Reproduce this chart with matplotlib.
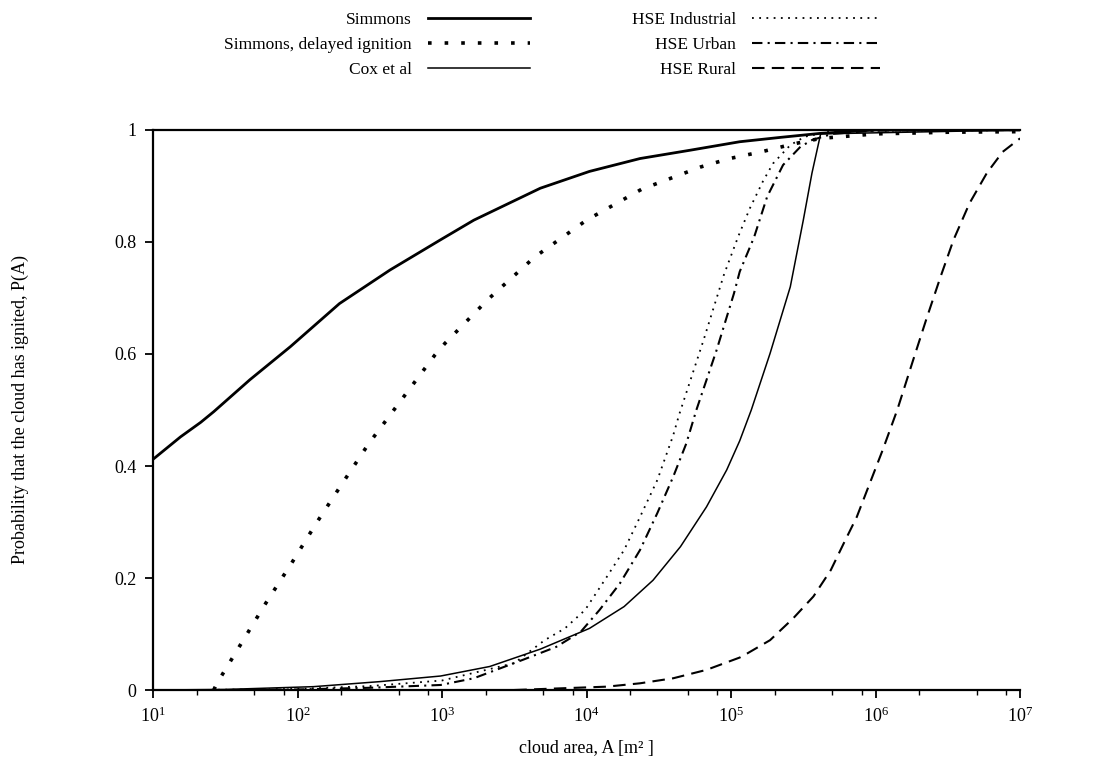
import numpy as np
import matplotlib
matplotlib.use('Agg')
import matplotlib.pyplot as plt

plt.rcParams['font.family'] = ['Liberation Serif', 'DejaVu Serif']
plt.rcParams['mathtext.fontset'] = 'custom'
plt.rcParams['mathtext.rm'] = 'Liberation Serif'
plt.rcParams['mathtext.it'] = 'Liberation Serif:italic'

# curves: exponent of cloud area (log10 A) and P(A)
simmons_logA = [1.0, 1.19, 1.33, 1.42, 1.67, 1.95, 2.29, 2.64, 2.99, 3.22, 3.68, 4.02,
                4.37, 4.72, 5.06, 5.35, 5.62, 6.0, 7.0]
simmons_p = [0.412, 0.452, 0.478, 0.497, 0.554, 0.613, 0.690, 0.750, 0.804, 0.839, 0.896, 0.926,
             0.949, 0.964, 0.979, 0.987, 0.994, 1.0, 1.0]

delayed_logA = [1.42, 1.44, 1.61, 1.78, 1.96, 2.13, 2.31, 2.49, 2.62, 2.95, 3.02, 3.32, 3.64,
                4.00, 4.38, 4.79, 4.99, 5.21, 5.43, 5.62, 6.0, 6.5, 7.0]
delayed_p = [0.0, 0.011, 0.083, 0.155, 0.227, 0.298, 0.369, 0.439, 0.484, 0.598, 0.619, 0.698, 0.773,
             0.839, 0.894, 0.934, 0.949, 0.961, 0.975, 0.985, 0.993, 0.996, 0.997]

cox_logA = [1.0, 1.5, 2.11, 2.57, 2.99, 3.33, 3.68, 4.02, 4.26, 4.46, 4.65, 4.83, 4.97, 5.06,
            5.14, 5.27, 5.41, 5.50, 5.56, 5.62, 7.0]
cox_p = [0.0, 0.001, 0.006, 0.015, 0.025, 0.042, 0.073, 0.110, 0.149, 0.196, 0.256, 0.327, 0.393, 0.445,
         0.500, 0.601, 0.720, 0.839, 0.923, 0.993, 1.0]

industrial_logA = [1.3, 2.0, 2.5, 3.0, 3.5, 3.71, 3.85, 3.99, 4.14, 4.26, 4.37, 4.49, 4.60, 4.64,
                   4.81, 4.95, 5.05, 5.13, 5.22, 5.29, 5.41, 5.51, 5.7, 7.0]
industrial_p = [0.0, 0.002, 0.007, 0.017, 0.048, 0.089, 0.110, 0.143, 0.202, 0.25, 0.309, 0.375, 0.455, 0.491,
                0.625, 0.741, 0.81, 0.86, 0.908, 0.94, 0.973, 0.988, 0.998, 1.0]

urban_logA = [1.5, 2.0, 2.5, 2.99, 3.22, 3.56, 3.79, 3.96, 4.09, 4.23, 4.37, 4.49, 4.60, 4.69,
              4.76, 4.90, 5.02, 5.06, 5.16, 5.25, 5.36, 5.48, 5.56, 5.7, 6.0, 7.0]
urban_p = [0.0, 0.001, 0.004, 0.009, 0.021, 0.054, 0.077, 0.104, 0.143, 0.19, 0.25, 0.316, 0.381, 0.44,
           0.5, 0.607, 0.708, 0.747, 0.809, 0.881, 0.9375, 0.970, 0.982, 0.993, 0.999, 1.0]

rural_logA = [3.5, 4.14, 4.37, 4.60, 4.83, 5.06, 5.11, 5.27, 5.43, 5.57, 5.69, 5.78, 5.87, 5.96,
              6.05, 6.15, 6.26, 6.35, 6.45, 6.54, 6.65, 6.77, 6.88, 7.0]
rural_p = [0.0, 0.006, 0.012, 0.021, 0.036, 0.058, 0.065, 0.089, 0.128, 0.167, 0.214, 0.262, 0.309, 0.369,
           0.429, 0.5, 0.589, 0.661, 0.738, 0.804, 0.869, 0.923, 0.961, 0.985]

xtick_values = [1e1, 1e2, 1e3, 1e4, 1e5, 1e6, 1e7]
xtick_labels = ['$10^1$', '$10^2$', '$10^3$', '$10^4$', '$10^5$', '$10^6$', '$10^7$']
ytick_values = [0, 0.2, 0.4, 0.6, 0.8, 1]
ytick_labels = ['0', '0.2', '0.4', '0.6', '0.8', '1']

fig = plt.figure(figsize=(10.94, 7.76), dpi=100)
ax = fig.add_axes([0.1399, 0.1108, 0.7925, 0.7217])

def area(logA):
    return 10 ** np.array(logA)

h1, = ax.plot(area(simmons_logA), simmons_p, color='black', lw=2.0, label='Simmons')
h2, = ax.plot(area(delayed_logA), delayed_p, color='black', lw=2.6, ls=(0, (1.0, 3.6)),
              label='Simmons, delayed ignition')
h3, = ax.plot(area(cox_logA), cox_p, color='black', lw=1.1, label='Cox et al')
h4, = ax.plot(area(industrial_logA), industrial_p, color='black', lw=1.3, ls=(0, (1, 3)),
              label='HSE Industrial')
h5, = ax.plot(area(urban_logA), urban_p, color='black', lw=1.5, ls=(0, (5, 2.5, 1, 2.5)),
              label='HSE Urban')
h6, = ax.plot(area(rural_logA), rural_p, color='black', lw=1.5, ls=(0, (6, 3.5)),
              label='HSE Rural')

ax.set_xscale('log')
ax.set_xlim(1e1, 1e7)
ax.set_ylim(0, 1)
ax.set_xticks(xtick_values)
ax.set_xticklabels(xtick_labels)
ax.xaxis.set_minor_locator(matplotlib.ticker.LogLocator(base=10, subs=[2, 5, 8]))
ax.xaxis.set_minor_formatter(matplotlib.ticker.NullFormatter())
ax.set_yticks(ytick_values)
ax.set_yticklabels(ytick_labels)

ax.tick_params(axis='both', which='major', direction='out', length=6, width=1.3,
               labelsize=13, pad=6, colors='black')
ax.tick_params(axis='x', which='minor', direction='out', length=3.5, width=1.0)
ax.tick_params(top=False, right=False, which='both')
for side in ['left', 'bottom', 'top']:
    ax.spines[side].set_linewidth(1.6)
ax.spines['right'].set_visible(False)

ax.set_xlabel('cloud area, A [m² ]', fontsize=13, labelpad=10)
ax.set_ylabel('Probability that the cloud has ignited, P(A)', fontsize=13, labelpad=61)

# two legend columns, text to the left of the line sample
fig.legend(handles=[h1, h2, h3], loc='upper right', bbox_to_anchor=(530 / 1094, 0.985),
           frameon=False, markerfirst=False, fontsize=12.5, handlelength=5.9,
           handletextpad=0.9, labelspacing=0.52, borderpad=0, borderaxespad=0)
fig.legend(handles=[h4, h5, h6], loc='upper right', bbox_to_anchor=(880 / 1094, 0.985),
           frameon=False, markerfirst=False, fontsize=12.5, handlelength=7.4,
           handletextpad=0.9, labelspacing=0.52, borderpad=0, borderaxespad=0)

fig.savefig('out.png', dpi=100, facecolor='white')
